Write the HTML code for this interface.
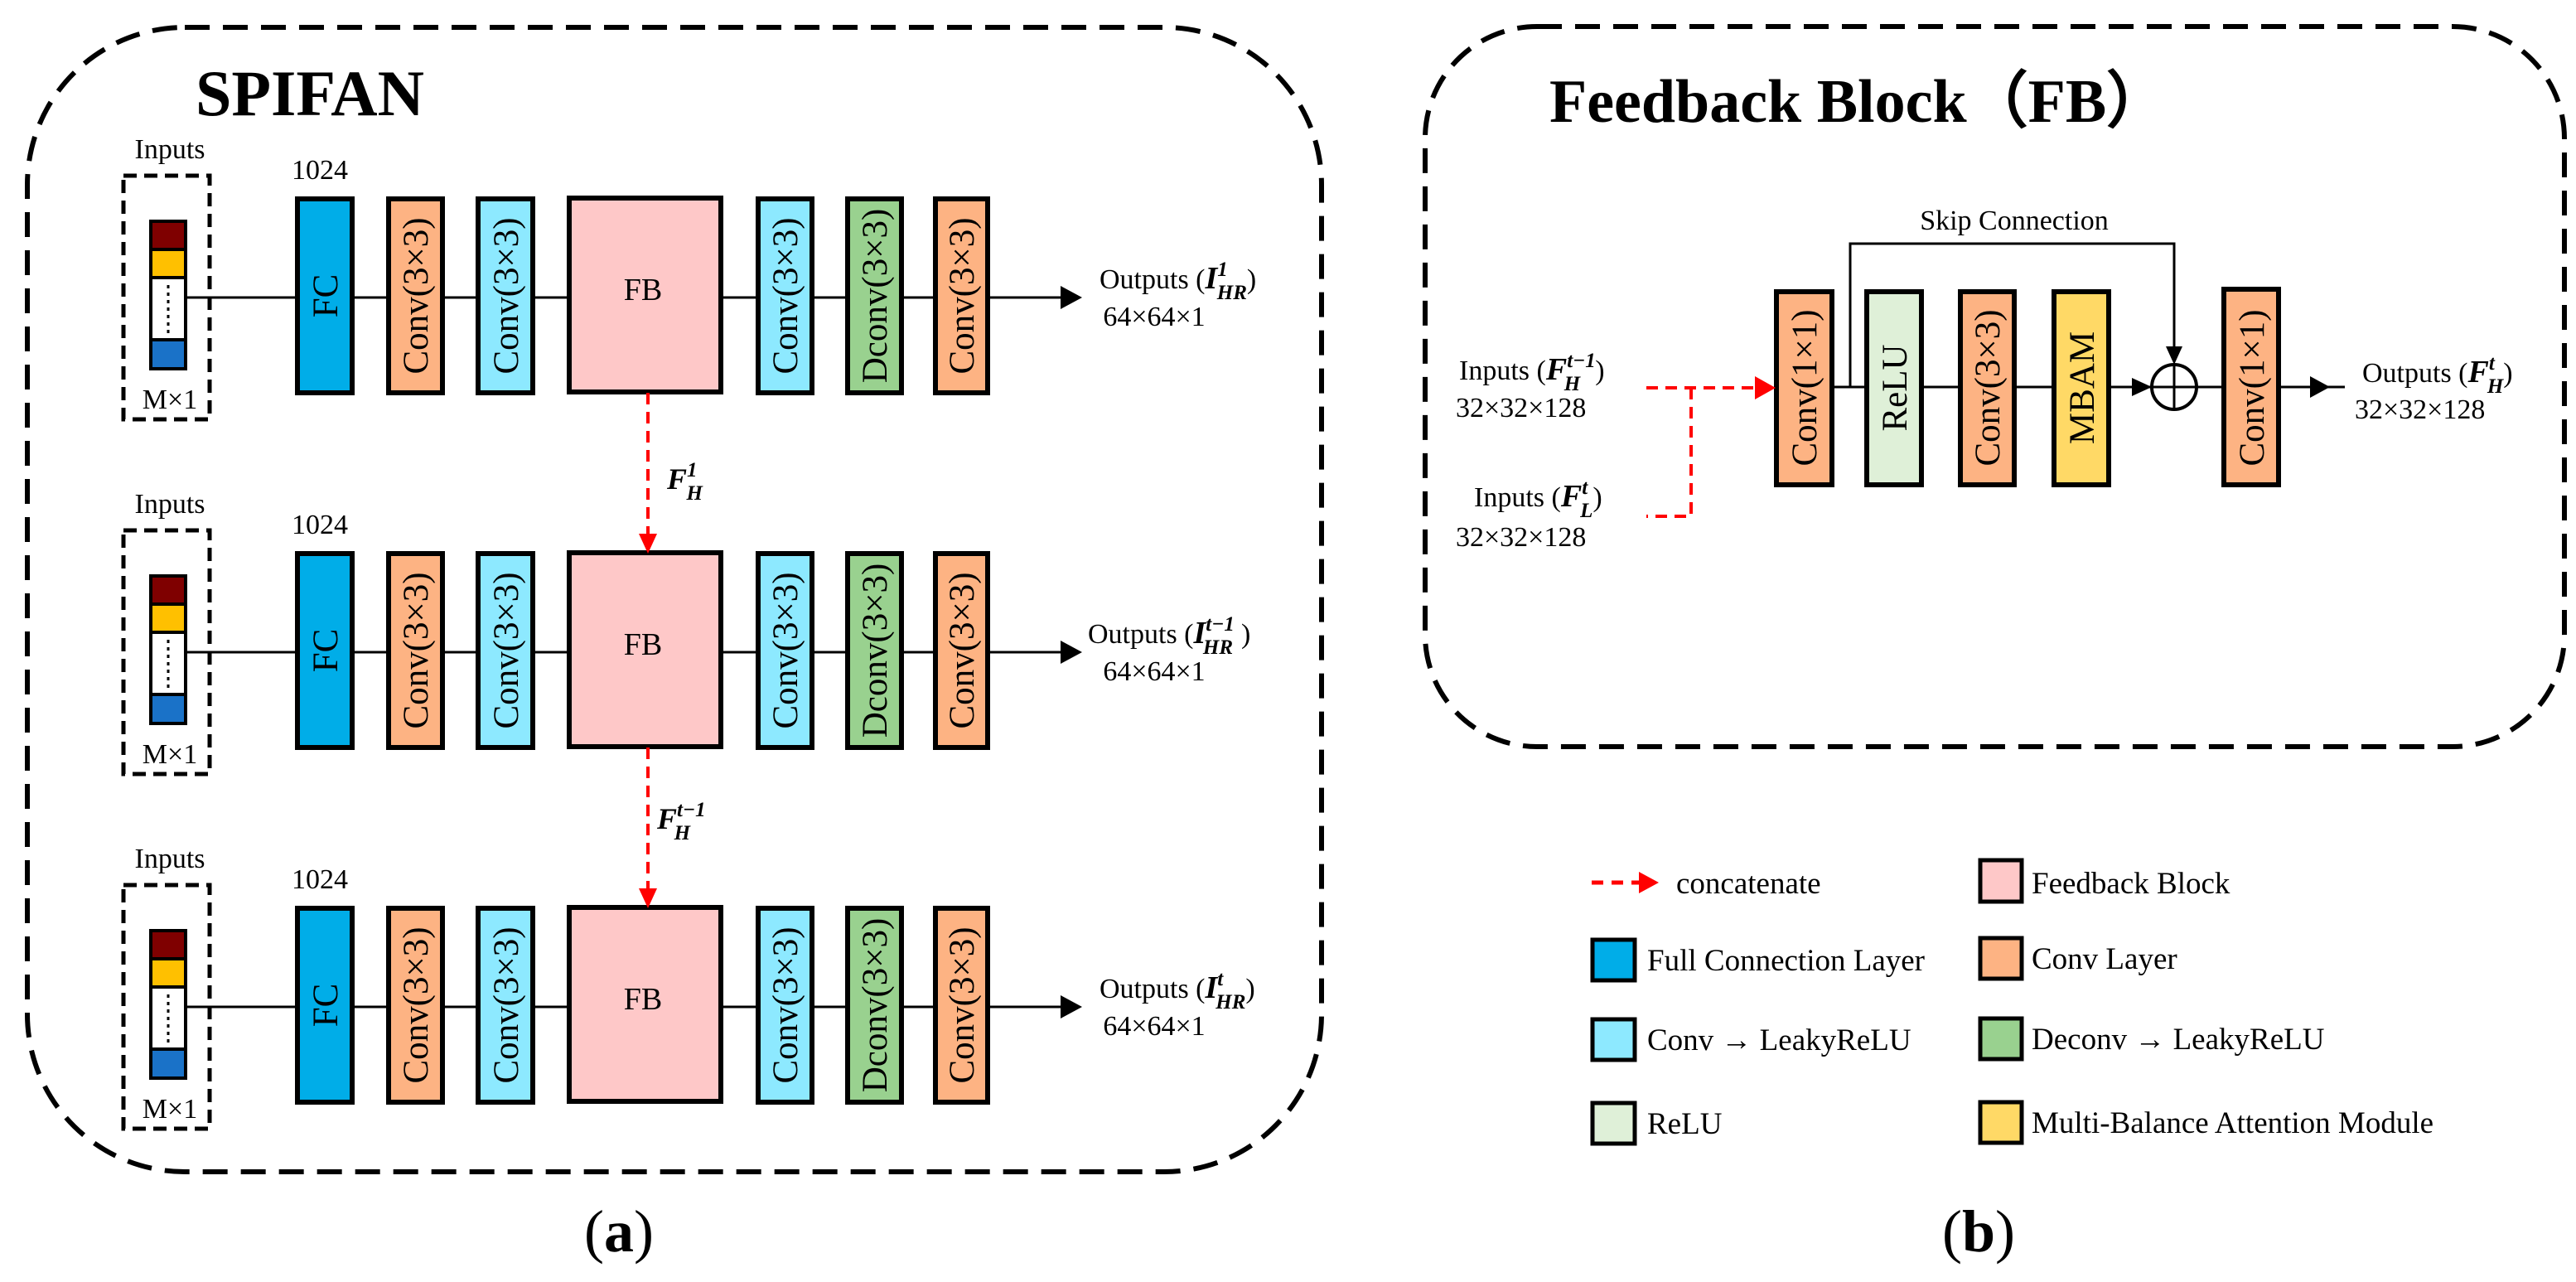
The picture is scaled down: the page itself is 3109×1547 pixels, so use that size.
<!DOCTYPE html>
<html><head><meta charset="utf-8"><style>
html,body{margin:0;padding:0;background:#fff;}
svg{display:block;}
text{font-family:"Liberation Serif",serif;fill:#000;}
.b{stroke:#000;stroke-width:6;}
.vt{font-size:43px;}
.lbl{font-size:34px;}
.math{font-weight:bold;font-style:italic;}
.leg{font-size:37px;}
</style></head><body>
<svg width="3109" height="1547" viewBox="0 0 3109 1547" xmlns="http://www.w3.org/2000/svg">
<defs>
<g id="row">
  <text class="lbl" x="205" y="191" text-anchor="middle">Inputs</text>
  <rect x="149" y="212" width="104" height="294" fill="none" stroke="#000" stroke-width="5" stroke-dasharray="16,9"/>
  <line x1="224" y1="359" x2="1290" y2="359" stroke="#000" stroke-width="3"/>
  <polygon points="1280,345 1306,359 1280,373" fill="#000"/>
  <rect x="182" y="267" width="42" height="34" fill="#7f0000" stroke="#000" stroke-width="4"/>
  <rect x="182" y="301" width="42" height="34" fill="#ffc000" stroke="#000" stroke-width="4"/>
  <rect x="182" y="335" width="42" height="75" fill="#fff" stroke="#000" stroke-width="4"/>
  <rect x="182" y="410" width="42" height="35" fill="#1a72c8" stroke="#000" stroke-width="4"/>
  <line x1="203" y1="344" x2="203" y2="402" stroke="#000" stroke-width="3" stroke-dasharray="4,5"/>
  <text class="lbl" x="205" y="493" text-anchor="middle">M×1</text>
  <text class="lbl" x="352" y="216">1024</text>
  <rect x="359" y="240" width="66" height="234" fill="#00ade8" class="b"/>
  <rect x="469" y="240" width="65" height="234" fill="#fdb383" class="b"/>
  <rect x="577" y="240" width="66" height="234" fill="#8de9ff" class="b"/>
  <rect x="687" y="239" width="183" height="234" fill="#fec8c8" class="b"/>
  <rect x="915" y="240" width="65" height="234" fill="#8de9ff" class="b"/>
  <rect x="1023" y="240" width="65" height="234" fill="#99d18f" class="b"/>
  <rect x="1129" y="240" width="63" height="234" fill="#fdb383" class="b"/>
  <text class="vt" transform="translate(407,357) rotate(-90)" text-anchor="middle">FC</text>
  <text class="vt" transform="translate(516,357) rotate(-90)" text-anchor="middle">Conv(3×3)</text>
  <text class="vt" transform="translate(625,357) rotate(-90)" text-anchor="middle">Conv(3×3)</text>
  <text class="vt" transform="translate(962,357) rotate(-90)" text-anchor="middle">Conv(3×3)</text>
  <text class="vt" transform="translate(1070,357) rotate(-90)" text-anchor="middle">Dconv(3×3)</text>
  <text class="vt" transform="translate(1175,357) rotate(-90)" text-anchor="middle">Conv(3×3)</text>
  <text x="776" y="362" font-size="38" text-anchor="middle">FB</text>
  <text class="lbl" x="1393" y="393" text-anchor="middle">64×64×1</text>
</g>
</defs>

<!-- Left panel -->
<rect x="33" y="33" width="1562" height="1381" rx="190" ry="190" fill="none" stroke="#000" stroke-width="6" stroke-dasharray="30,16"/>
<text x="236" y="139" font-size="78" font-weight="bold">SPIFAN</text>

<use href="#row"/>
<use href="#row" transform="translate(0,428)"/>
<use href="#row" transform="translate(0,856)"/>

<text class="lbl" x="1327" y="348">Outputs (<tspan class="math" font-size="38">I</tspan><tspan class="math" font-size="25" dy="-15">1</tspan><tspan class="math" font-size="25" dx="-13" dy="28">HR</tspan><tspan dy="-13">)</tspan></text>
<text class="lbl" x="1313" y="776">Outputs (<tspan class="math" font-size="38">I</tspan><tspan class="math" font-size="25" dy="-15">t−1</tspan><tspan class="math" font-size="25" dx="-38" dy="28">HR</tspan><tspan dx="10" dy="-13">)</tspan></text>
<text class="lbl" x="1327" y="1204">Outputs (<tspan class="math" font-size="38">I</tspan><tspan class="math" font-size="25" dy="-15">t</tspan><tspan class="math" font-size="25" dx="-9" dy="28">HR</tspan><tspan dy="-13">)</tspan></text>

<!-- red arrows -->
<line x1="782" y1="474" x2="782" y2="646" stroke="#f00" stroke-width="4" stroke-dasharray="14,9"/>
<polygon points="771,644 793,644 782,668" fill="#f00"/>
<line x1="782" y1="902" x2="782" y2="1074" stroke="#f00" stroke-width="4" stroke-dasharray="14,9"/>
<polygon points="771,1072 793,1072 782,1096" fill="#f00"/>
<text x="805" y="590" font-size="36" class="math">F<tspan font-size="25" dy="-15">1</tspan><tspan font-size="25" dx="-13" dy="28">H</tspan></text>
<text x="793" y="1000" font-size="36" class="math">F<tspan font-size="25" dy="-15">t−1</tspan><tspan font-size="25" dx="-38" dy="28">H</tspan></text>

<text x="747" y="1510" font-size="72" text-anchor="middle">(<tspan font-weight="bold">a</tspan>)</text>

<!-- Right panel -->
<rect x="1720" y="32" width="1375" height="869" rx="135" ry="135" fill="none" stroke="#000" stroke-width="6" stroke-dasharray="30,16"/>
<text x="1870" y="147" font-size="74" font-weight="bold">Feedback Block（FB）</text>

<text x="2431" y="277" font-size="34" text-anchor="middle">Skip Connection</text>
<polyline points="2233,467 2233,294 2624,294 2624,425" fill="none" stroke="#000" stroke-width="3"/>
<polygon points="2614,418 2634,418 2624,440" fill="#000"/>
<line x1="2211" y1="467" x2="2830" y2="467" stroke="#000" stroke-width="3"/>
<polygon points="2573,456 2597,467 2573,478" fill="#000"/>
<polygon points="2788,454 2812,467 2788,480" fill="#000"/>
<rect x="2144" y="352" width="67" height="233" fill="#fdb383" class="b"/>
<rect x="2253" y="352" width="66" height="233" fill="#dff0d8" class="b"/>
<rect x="2366" y="352" width="65" height="233" fill="#fdb383" class="b"/>
<rect x="2479" y="352" width="66" height="233" fill="#ffd966" class="b"/>
<rect x="2684" y="349" width="66" height="236" fill="#fdb383" class="b"/>
<circle cx="2624" cy="467" r="27" fill="#fff" stroke="#000" stroke-width="4"/>
<line x1="2597" y1="467" x2="2651" y2="467" stroke="#000" stroke-width="3"/>
<line x1="2624" y1="440" x2="2624" y2="494" stroke="#000" stroke-width="3"/>
<text class="vt" transform="translate(2192,468) rotate(-90)" text-anchor="middle">Conv(1×1)</text>
<text class="vt" transform="translate(2301,468) rotate(-90)" text-anchor="middle">ReLU</text>
<text class="vt" transform="translate(2413,468) rotate(-90)" text-anchor="middle">Conv(3×3)</text>
<text class="vt" transform="translate(2527,468) rotate(-90)" text-anchor="middle">MBAM</text>
<text class="vt" transform="translate(2732,468) rotate(-90)" text-anchor="middle">Conv(1×1)</text>

<text class="lbl" x="1761" y="458">Inputs (<tspan class="math" font-size="38">F</tspan><tspan class="math" font-size="25" dy="-15">t−1</tspan><tspan class="math" font-size="25" dx="-38" dy="28">H</tspan><tspan dx="18" dy="-13">)</tspan></text>
<text class="lbl" x="1757" y="503">32×32×128</text>
<text class="lbl" x="1779" y="611">Inputs (<tspan class="math" font-size="38">F</tspan><tspan class="math" font-size="25" dy="-15">t</tspan><tspan class="math" font-size="25" dx="-9" dy="28">L</tspan><tspan dy="-13">)</tspan></text>
<text class="lbl" x="1757" y="659">32×32×128</text>
<text class="lbl" x="2851" y="461">Outputs (<tspan class="math" font-size="38">F</tspan><tspan class="math" font-size="25" dy="-15">t</tspan><tspan class="math" font-size="25" dx="-9" dy="28">H</tspan><tspan dy="-13">)</tspan></text>
<text class="lbl" x="2842" y="505">32×32×128</text>

<polyline points="1987,468 2120,468" fill="none" stroke="#f00" stroke-width="4" stroke-dasharray="14,9"/>
<polyline points="2041,468 2041,623 1987,623" fill="none" stroke="#f00" stroke-width="4" stroke-dasharray="14,9"/>
<polygon points="2118,454 2143,468 2118,482" fill="#f00"/>

<!-- Legend -->
<line x1="1921" y1="1065" x2="1978" y2="1065" stroke="#f00" stroke-width="5" stroke-dasharray="14,10"/>
<polygon points="1978,1052 2002,1065 1978,1078" fill="#f00"/>
<text class="leg" x="2023" y="1078">concatenate</text>
<rect x="2390" y="1038" width="50" height="50" fill="#fec8c8" stroke="#000" stroke-width="5"/>
<text class="leg" x="2452" y="1078">Feedback Block</text>
<rect x="1922" y="1134" width="51" height="49" fill="#00ade8" stroke="#000" stroke-width="5"/>
<text class="leg" x="1988" y="1171">Full Connection Layer</text>
<rect x="2390" y="1132" width="50" height="49" fill="#fdb383" stroke="#000" stroke-width="5"/>
<text class="leg" x="2452" y="1169">Conv Layer</text>
<rect x="1922" y="1230" width="51" height="49" fill="#8de9ff" stroke="#000" stroke-width="5"/>
<text class="leg" x="1988" y="1267">Conv → LeakyReLU</text>
<rect x="2390" y="1229" width="50" height="49" fill="#99d18f" stroke="#000" stroke-width="5"/>
<text class="leg" x="2452" y="1266">Deconv → LeakyReLU</text>
<rect x="1922" y="1331" width="51" height="49" fill="#dff0d8" stroke="#000" stroke-width="5"/>
<text class="leg" x="1988" y="1368">ReLU</text>
<rect x="2390" y="1330" width="50" height="49" fill="#ffd966" stroke="#000" stroke-width="5"/>
<text class="leg" x="2452" y="1367">Multi-Balance Attention Module</text>

<text x="2388" y="1510" font-size="72" text-anchor="middle">(<tspan font-weight="bold">b</tspan>)</text>
</svg>
</body></html>
